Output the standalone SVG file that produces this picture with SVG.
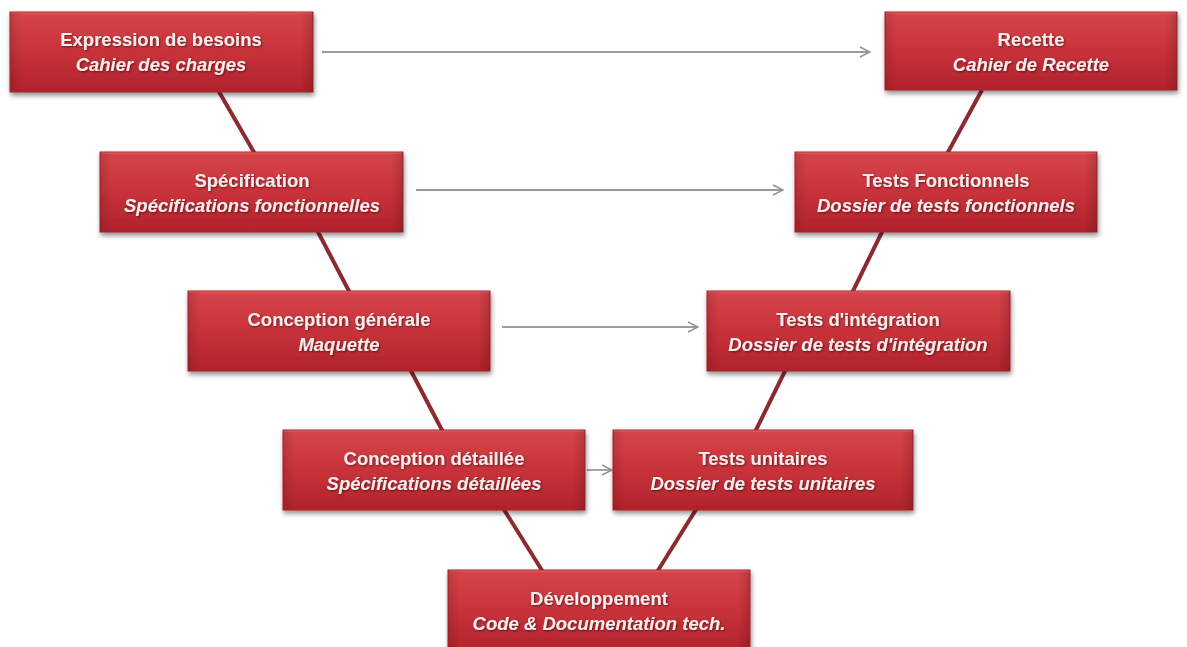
<svg xmlns="http://www.w3.org/2000/svg" width="1187" height="647" viewBox="0 0 1187 647">
  <defs>
    <linearGradient id="boxFill" x1="0" y1="0" x2="0" y2="1">
      <stop offset="0" stop-color="#d6454a"/>
      <stop offset="0.5" stop-color="#c8323a"/>
      <stop offset="1" stop-color="#b0232b"/>
    </linearGradient>
    <linearGradient id="sideShade" x1="0" y1="0" x2="1" y2="0">
      <stop offset="0" stop-color="#000" stop-opacity="0.12"/>
      <stop offset="0.04" stop-color="#000" stop-opacity="0"/>
      <stop offset="0.96" stop-color="#000" stop-opacity="0"/>
      <stop offset="1" stop-color="#000" stop-opacity="0.15"/>
    </linearGradient>
    <filter id="drop" x="-10%" y="-20%" width="120%" height="150%">
      <feGaussianBlur in="SourceAlpha" stdDeviation="2.5"/>
      <feOffset dx="1" dy="3" result="b"/>
      <feComponentTransfer><feFuncA type="linear" slope="0.45"/></feComponentTransfer>
      <feMerge><feMergeNode/><feMergeNode in="SourceGraphic"/></feMerge>
    </filter>
    <filter id="txtShadow" x="-5%" y="-30%" width="110%" height="160%">
      <feGaussianBlur in="SourceAlpha" stdDeviation="0.8"/>
      <feOffset dx="1" dy="1"/>
      <feComponentTransfer><feFuncA type="linear" slope="0.5"/></feComponentTransfer>
      <feMerge><feMergeNode/><feMergeNode in="SourceGraphic"/></feMerge>
    </filter>
    <marker id="openArrow" viewBox="0 0 12 12" refX="11" refY="6" markerWidth="12" markerHeight="12" markerUnits="userSpaceOnUse" orient="auto">
      <path d="M1,1 L11,6 L1,11" fill="none" stroke="#9a9090" stroke-width="1.4"/>
    </marker>
  </defs>
  <style>
    .box { fill: url(#boxFill); stroke: #a8252c; stroke-width: 1; }
    .shade { fill: url(#sideShade); }
    .hi { fill: none; stroke: #e87a7c; stroke-opacity: 0.6; stroke-width: 1; }
    .t1 { font-family: "Liberation Sans", Arial, sans-serif; font-size: 18.5px; font-weight: bold; fill: #f8ecec; text-anchor: middle; }
    .t2 { font-family: "Liberation Sans", Arial, sans-serif; font-size: 18.5px; font-weight: bold; font-style: italic; fill: #f8ecec; text-anchor: middle; }
    .link { stroke: #8c2a31; stroke-width: 4; fill: none; }
    .flow { stroke: #a09898; stroke-width: 1.8; fill: none; marker-end: url(#openArrow); }
  </style>

  <rect width="1187" height="647" fill="#ffffff"/>

  <!-- connectors -->
  <g id="connectors">
    <line class="link" x1="218" y1="90" x2="255" y2="154"/>
    <line class="link" x1="317" y1="230" x2="350" y2="293"/>
    <line class="link" x1="410" y1="369" x2="443" y2="432"/>
    <line class="link" x1="503" y1="508" x2="543" y2="572"/>
    <line class="link" x1="657" y1="572" x2="697" y2="508"/>
    <line class="link" x1="755" y1="432" x2="786" y2="369"/>
    <line class="link" x1="852" y1="293" x2="883" y2="230"/>
    <line class="link" x1="947" y1="154" x2="982" y2="90"/>
    <line class="flow" x1="322" y1="52" x2="870" y2="52"/>
    <line class="flow" x1="416" y1="190" x2="783" y2="190"/>
    <line class="flow" x1="502" y1="327" x2="698" y2="327"/>
    <line class="flow" x1="587" y1="470" x2="612" y2="470"/>
  </g>

  <g id="expression" filter="url(#drop)">
    <rect class="box" x="10" y="12" width="303" height="80"/>
    <rect class="shade" x="10" y="12" width="303" height="80"/>
    <line class="hi" x1="11" y1="13" x2="312" y2="13"/>
    <g filter="url(#txtShadow)">
      <text class="t1" x="161" y="46">Expression de besoins</text>
      <text class="t2" x="161" y="71">Cahier des charges</text>
    </g>
  </g>

  <g id="recette" filter="url(#drop)">
    <rect class="box" x="885" y="12" width="292" height="78"/>
    <rect class="shade" x="885" y="12" width="292" height="78"/>
    <line class="hi" x1="886" y1="13" x2="1176" y2="13"/>
    <g filter="url(#txtShadow)">
      <text class="t1" x="1031" y="46">Recette</text>
      <text class="t2" x="1031" y="71">Cahier de Recette</text>
    </g>
  </g>

  <g id="specification" filter="url(#drop)">
    <rect class="box" x="100" y="152" width="303" height="80"/>
    <rect class="shade" x="100" y="152" width="303" height="80"/>
    <line class="hi" x1="101" y1="153" x2="402" y2="153"/>
    <g filter="url(#txtShadow)">
      <text class="t1" x="252" y="187">Spécification</text>
      <text class="t2" x="252" y="212">Spécifications fonctionnelles</text>
    </g>
  </g>

  <g id="tests-fonctionnels" filter="url(#drop)">
    <rect class="box" x="795" y="152" width="302" height="80"/>
    <rect class="shade" x="795" y="152" width="302" height="80"/>
    <line class="hi" x1="796" y1="153" x2="1096" y2="153"/>
    <g filter="url(#txtShadow)">
      <text class="t1" x="946" y="187">Tests Fonctionnels</text>
      <text class="t2" x="946" y="212">Dossier de tests fonctionnels</text>
    </g>
  </g>

  <g id="conception-generale" filter="url(#drop)">
    <rect class="box" x="188" y="291" width="302" height="80"/>
    <rect class="shade" x="188" y="291" width="302" height="80"/>
    <line class="hi" x1="189" y1="292" x2="489" y2="292"/>
    <g filter="url(#txtShadow)">
      <text class="t1" x="339" y="326">Conception générale</text>
      <text class="t2" x="339" y="351">Maquette</text>
    </g>
  </g>

  <g id="tests-integration" filter="url(#drop)">
    <rect class="box" x="707" y="291" width="303" height="80"/>
    <rect class="shade" x="707" y="291" width="303" height="80"/>
    <line class="hi" x1="708" y1="292" x2="1009" y2="292"/>
    <g filter="url(#txtShadow)">
      <text class="t1" x="858" y="326">Tests d'intégration</text>
      <text class="t2" x="858" y="351">Dossier de tests d'intégration</text>
    </g>
  </g>

  <g id="conception-detaillee" filter="url(#drop)">
    <rect class="box" x="283" y="430" width="302" height="80"/>
    <rect class="shade" x="283" y="430" width="302" height="80"/>
    <line class="hi" x1="284" y1="431" x2="584" y2="431"/>
    <g filter="url(#txtShadow)">
      <text class="t1" x="434" y="465">Conception détaillée</text>
      <text class="t2" x="434" y="490">Spécifications détaillées</text>
    </g>
  </g>

  <g id="tests-unitaires" filter="url(#drop)">
    <rect class="box" x="613" y="430" width="300" height="80"/>
    <rect class="shade" x="613" y="430" width="300" height="80"/>
    <line class="hi" x1="614" y1="431" x2="912" y2="431"/>
    <g filter="url(#txtShadow)">
      <text class="t1" x="763" y="465">Tests unitaires</text>
      <text class="t2" x="763" y="490">Dossier de tests unitaires</text>
    </g>
  </g>

  <g id="developpement" filter="url(#drop)">
    <rect class="box" x="448" y="570" width="302" height="82"/>
    <rect class="shade" x="448" y="570" width="302" height="82"/>
    <line class="hi" x1="449" y1="571" x2="749" y2="571"/>
    <g filter="url(#txtShadow)">
      <text class="t1" x="599" y="605">Développement</text>
      <text class="t2" x="599" y="630">Code &amp; Documentation tech.</text>
    </g>
  </g>
</svg>
